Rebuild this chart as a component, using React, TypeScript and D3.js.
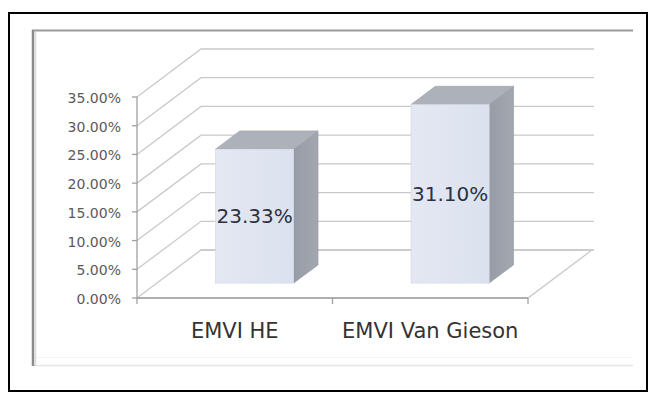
import React from "react";
import * as d3 from "d3";

const categories = ["EMVI HE", "EMVI Van Gieson"];
const values = [23.33, 31.1];
const valueLabels = ["23.33%", "31.10%"];
const yTicks = [0, 5, 10, 15, 20, 25, 30, 35];

const W = 648;
const H = 397;
const DX = 64; // depth offset of the back wall
const DY = 48;
const BAR_D0 = 0.31; // bar front depth fraction
const BAR_DD = 0.38; // bar depth fraction
const BAR_W = 0.4; // bar width fraction of slot

export default function App() {
  const x = d3.scaleBand<string>().domain(categories).range([137, 528]).padding(0);
  const y = d3.scaleLinear().domain([0, 35]).range([298, 97]);
  const bw = x.bandwidth();
  const font = "'DejaVu Sans', sans-serif";
  const gridColor = "#c9c9c9";
  const axisColor = "#a0a0a0";
  const x0 = x.range()[0];
  const x1 = x.range()[1];
  const line = d3.line();

  return (
    <svg width={W} height={H} style={{ position: "absolute", left: 0, top: 0, background: "#fff" }}>
      <defs>
        <linearGradient id="frontG" x1="0" x2="1" y1="0" y2="0">
          <stop offset="0" stopColor="#e4e8f3" />
          <stop offset="1" stopColor="#dbe1ee" />
        </linearGradient>
        <linearGradient id="sideG" x1="0" x2="1" y1="0" y2="0">
          <stop offset="0" stopColor="#979ca6" />
          <stop offset="1" stopColor="#a3a7b0" />
        </linearGradient>
      </defs>
      <rect x={0} y={0} width={W} height={H} fill="#fff" />
      {/* outer black border */}
      <rect x={9} y={13} width={638} height={378} fill="none" stroke="#000" strokeWidth={2} />
      {/* inner chart frame */}
      <line x1={33} y1={365.5} x2={633} y2={365.5} stroke="#e6e6e6" strokeWidth={1.5} />
      <line x1={33} y1={357.5} x2={633} y2={357.5} stroke="#f3f3f3" strokeWidth={1} />
      <line x1={32} y1={30.5} x2={633} y2={30.5} stroke="#9a9a9a" strokeWidth={2} />
      <line x1={33} y1={30} x2={33} y2={366} stroke="#8a8a8a" strokeWidth={2.5} />
      <line x1={35.5} y1={32} x2={35.5} y2={366} stroke="#dcdcdc" strokeWidth={1.5} />

      {/* side wall diagonals + back wall gridlines */}
      {yTicks.map((t) => (
        <g key={"g" + t}>
          <path
            d={line([
              [x0, y(t)],
              [x0 + DX, y(t) - DY],
              [x1 + DX + 2, y(t) - DY],
            ]) as string}
            fill="none"
            stroke={gridColor}
            strokeWidth={1.3}
          />
        </g>
      ))}
      {/* floor */}
      <path
        d={line([
          [x0, y(0)],
          [x1, y(0)],
          [x1 + DX, y(0) - DY],
          [x0 + DX, y(0) - DY],
        ]) as string}
        fill="none"
        stroke={gridColor}
        strokeWidth={1.3}
      />
      {/* axes */}
      <line x1={x0} y1={y(35)} x2={x0} y2={y(0) + 1} stroke={axisColor} strokeWidth={1.3} />
      <line x1={x0} y1={y(0)} x2={x1} y2={y(0)} stroke={axisColor} strokeWidth={1.3} />
      {yTicks.map((t) => (
        <line key={"t" + t} x1={x0 - 5} y1={y(t)} x2={x0} y2={y(t)} stroke={axisColor} strokeWidth={1.3} />
      ))}
      {[...categories.map((c) => x(c) as number), x1].map((p, i) => (
        <line key={"xt" + i} x1={p} y1={y(0)} x2={p} y2={y(0) + 6} stroke={axisColor} strokeWidth={1.3} />
      ))}

      {/* y labels */}
      {yTicks.map((t) => (
        <text
          key={"yl" + t}
          x={121}
          y={y(t) + 1}
          textAnchor="end"
          dominantBaseline="central"
          fontFamily={font}
          fontSize={14}
          fill="#5a5a5a"
        >
          {t.toFixed(2) + "%"}
        </text>
      ))}

      {/* bars */}
      {categories.map((c, i) => {
        const cx = (x(c) as number) + bw / 2;
        const ox = BAR_D0 * DX;
        const oy = BAR_D0 * DY;
        const ddx = BAR_DD * DX;
        const ddy = BAR_DD * DY;
        const w = bw * BAR_W;
        const bx0 = cx - w / 2 + ox;
        const bx1 = bx0 + w;
        const by0 = y(0) - oy;
        const by1 = y(values[i]) - oy;
        const top = line([
          [bx0, by1],
          [bx1, by1],
          [bx1 + ddx, by1 - ddy],
          [bx0 + ddx, by1 - ddy],
        ]) + "Z";
        const side = line([
          [bx1, by1],
          [bx1 + ddx, by1 - ddy],
          [bx1 + ddx, by0 - ddy],
          [bx1, by0],
        ]) + "Z";
        return (
          <g key={c}>
            <path d={side} fill="url(#sideG)" stroke="#8f949d" strokeWidth={0.6} />
            <path d={top} fill="#adb1b9" stroke="#9ca0a8" strokeWidth={0.6} />
            <rect x={bx0} y={by1} width={w} height={by0 - by1} fill="url(#frontG)" stroke="#d0d6e3" strokeWidth={0.6} />
            <text
              x={bx0 + w / 2}
              y={(by0 + by1) / 2}
              textAnchor="middle"
              dominantBaseline="central"
              fontFamily={font}
              fontSize={20}
              fill="#2c3140"
            >
              {valueLabels[i]}
            </text>
          </g>
        );
      })}

      {/* category labels */}
      {categories.map((c) => (
        <text
          key={"cl" + c}
          x={(x(c) as number) + bw / 2}
          y={338}
          textAnchor="middle"
          fontFamily={font}
          fontSize={21}
          fill="#333"
        >
          {c}
        </text>
      ))}
    </svg>
  );
}
